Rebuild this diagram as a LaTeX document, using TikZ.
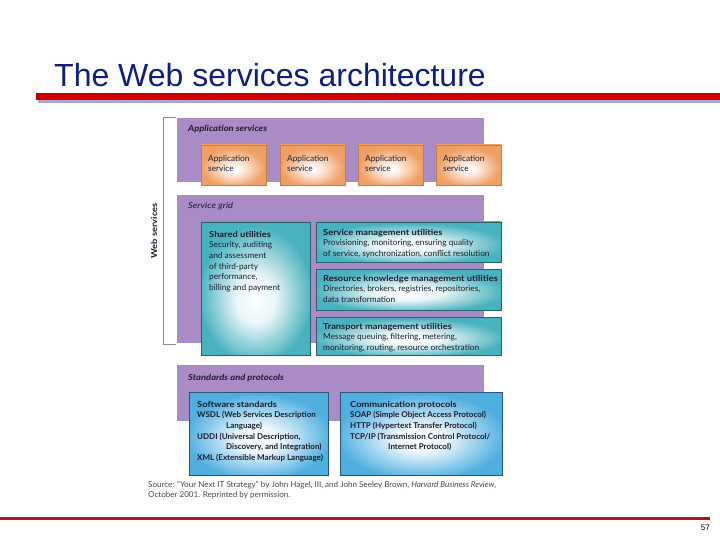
\documentclass[tikz,border=0pt]{standalone}
\usepackage{fontspec}
\setmainfont{Liberation Sans}
\newfontfamily\gill{Lato}
\newfontfamily\gillhd{Lato}[FakeStretch=1.12]
\definecolor{titleblue}{HTML}{0F1F7F}
\definecolor{barred}{HTML}{CC0000}
\definecolor{botred}{HTML}{B01818}
\definecolor{barshadow}{HTML}{B4A4D6}
\definecolor{bandc}{HTML}{A98BC6}
\definecolor{appor}{HTML}{F0A064}
\definecolor{tealc}{HTML}{48B2BE}
\definecolor{bluec}{HTML}{50AFE1}
\definecolor{txt}{HTML}{1C1C2C}
\definecolor{srcgrey}{HTML}{4A4A4A}
\pgfdeclareradialshading{orsh}{\pgfpoint{0bp}{-6bp}}{color(0bp)=(white); color(6bp)=(white!85!appor); color(24bp)=(appor); color(50bp)=(appor)}
\pgfdeclareradialshading{tealsh}{\pgfpoint{0bp}{-5bp}}{color(0bp)=(white); color(9bp)=(white!88!tealc); color(26bp)=(tealc); color(50bp)=(tealc)}
\pgfdeclareradialshading{bluesh}{\pgfpoint{0bp}{-4bp}}{color(0bp)=(white); color(8bp)=(white!88!bluec); color(26bp)=(bluec); color(50bp)=(bluec)}
\newcommand{\hd}[1]{{\gillhd\bfseries #1}}
\begin{document}
\begin{tikzpicture}[x=1pt,y=-1pt,
  bandfill/.style={fill=bandc, draw=none},
  appbox/.style={shading=orsh, draw=appor!80!black, line width=0.4pt},
  tealbox/.style={shading=tealsh, draw=tealc!55!black, line width=0.6pt},
  bluebox/.style={shading=bluesh, draw=bluec!50!black, line width=0.6pt},
  lbl/.style={font=\gill\fontsize{8.3}{10.6}\selectfont, text=txt, align=left, inner sep=0, anchor=north west},
  stdlbl/.style={lbl, font=\gill\bfseries\fontsize{8}{10.6}\selectfont},
  bandlbl/.style={font=\gillhd\itshape\fontsize{8.4}{9}\selectfont, text=txt, inner sep=0, anchor=base west},
  bracket/.style={draw=black!45, line width=0.9pt}
]
\useasboundingbox[fill=white] (0,0) rectangle (720,540);
% title and bars
\node[anchor=base west, font=\fontsize{32}{36}\selectfont, text=titleblue, inner sep=0] (title) at (54,87) {The Web services architecture};
\fill[barshadow] (38,100) rectangle (720,103);
\fill[barred] (36,93) rectangle (720,100);
\fill[botred] (0,517) rectangle (710,520);
\node[anchor=base east, font=\fontsize{8}{9}\selectfont, inner sep=0] (pg) at (710,530) {57};
% bracket
\draw[bracket] (176,117) -- (163,117) -- (163,344) -- (176,344);
\node[rotate=90, font=\gillhd\bfseries\fontsize{8.3}{9}\selectfont, text=txt, inner sep=0] (ws) at (154,231) {Web services};
% bands
\path[bandfill] (177,118) rectangle (484,182);
\path[bandfill] (177,195) rectangle (484,343);
\path[bandfill] (177,365) rectangle (484,421);
\node[bandlbl, font=\gillhd\bfseries\itshape\fontsize{8.4}{9}\selectfont] (l1) at (188,132) {Application services};
\node[bandlbl] (l2) at (188,209) {Service grid};
\node[bandlbl, font=\gillhd\bfseries\itshape\fontsize{8.4}{9}\selectfont] (l3) at (188,380) {Standards and protocols};
% application services
\path[appbox] (201,145) rectangle (266,185);
\path[appbox] (280,145) rectangle (345,185);
\path[appbox] (358,145) rectangle (423,185);
\path[appbox] (436,145) rectangle (501,185);
\node[lbl] (a1) at (208,155) {Application\\service};
\node[lbl] (a2) at (287,155) {Application\\service};
\node[lbl] (a3) at (365,155) {Application\\service};
\node[lbl] (a4) at (443,155) {Application\\service};
% service grid
\path[tealbox] (201,222) rectangle (310,355);
\path[tealbox] (316,222) rectangle (501,262);
\path[tealbox] (316,269) rectangle (501,310);
\path[tealbox] (316,317) rectangle (501,355);
\node[lbl] (su) at (209,231) {\hd{Shared utilities}\\Security, auditing\\and assessment\\of third-party\\performance,\\billing and payment};
\node[lbl] (smu) at (323,229) {\hd{Service management utilities}\\Provisioning, monitoring, ensuring quality\\of service, synchronization, conflict resolution};
\node[lbl] (rkmu) at (323,275) {\hd{Resource knowledge management utilities}\\Directories, brokers, registries, repositories,\\data transformation};
\node[lbl] (tmu) at (323,323) {\hd{Transport management utilities}\\Message queuing, filtering, metering,\\monitoring, routing, resource orchestration};
% standards
\path[bluebox] (189,392) rectangle (328,475);
\path[bluebox] (340,392) rectangle (502,475);
\node[stdlbl] (ss) at (197,401) {\hd{\fontsize{8.3}{10.6}\selectfont Software standards}\\WSDL (Web Services Description\\\hspace{29pt}Language)\\UDDI (Universal Description,\\\hspace{29pt}Discovery, and Integration)\\XML (Extensible Markup Language)};
\node[stdlbl] (cp) at (350,401) {\hd{\fontsize{8.3}{10.6}\selectfont Communication protocols}\\SOAP (Simple Object Access Protocol)\\HTTP (Hypertext Transfer Protocol)\\TCP/IP (Transmission Control Protocol/\\\hspace{38pt}Internet Protocol)};
% source
\node[lbl, font=\gill\fontsize{8.05}{10}\selectfont, text=srcgrey] (src) at (148,481) {Source: “Your Next IT Strategy” by John Hagel, III, and John Seeley Brown, \textit{Harvard Business Review},\\October 2001. Reprinted by permission.};
\end{tikzpicture}
\end{document}
